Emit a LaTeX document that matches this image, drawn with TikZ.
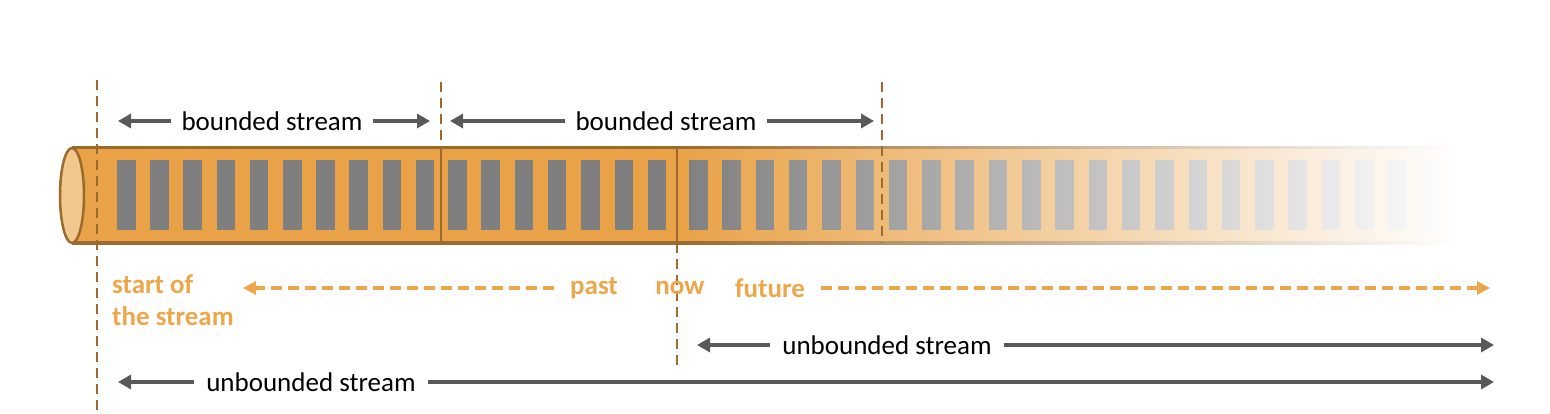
\documentclass[tikz,border=0pt]{standalone}
\usepackage{fontspec}
\setmainfont{Carlito}
\usetikzlibrary{arrows.meta,fadings}

\definecolor{tubeorange}{HTML}{E9A247}
\definecolor{tubeedge}{HTML}{9B6A2F}
\definecolor{capfill}{HTML}{F2C88E}
\definecolor{bargray}{HTML}{7F7F7F}
\definecolor{arrowgray}{HTML}{595959}
\definecolor{laborange}{HTML}{EEA64B}

\tikzfading[name=fadein, left color=transparent!100, right color=transparent!0]

\tikzset{
  label/.style={font=\fontsize{27}{32}\selectfont, inner sep=10pt},
  timelabel/.style={label, font=\fontsize{27}{32}\selectfont\bfseries, text=laborange, inner sep=16pt},
  grayarrow/.style={draw=arrowgray, line width=4pt, -{Triangle[length=13pt,width=14pt]}},
  timearrow/.style={draw=laborange, line width=3.5pt, dash pattern=on 11pt off 6pt,
    -{Triangle[length=13pt,width=13pt]}},
  cutline/.style={draw=tubeedge, line width=2.5pt, dash pattern=on 10pt off 6pt},
}

\begin{document}
\begin{tikzpicture}[x=1pt,y=-1pt]
    \useasboundingbox (0,0) rectangle (1550,414);

    % tube
    \fill[tubeorange] (72,148) rectangle (1450,243);
    \foreach \k in {0,...,9}
        \fill[bargray] ({117+33.2*\k},160) rectangle ++(18.5,70);
    \foreach \k in {0,...,6}
        \fill[bargray] ({448+33.3*\k},160) rectangle ++(18.5,70);
    \foreach \k in {0,...,22}
        \fill[bargray] ({689+33.3*\k},160) rectangle ++(18.5,70);
    \draw[tubeedge, line width=3pt] (72,148) -- (1450,148) (72,243) -- (1450,243);
    \fill[white, path fading=fadein] (677,144) rectangle (1456,248);
    \draw[tubeedge, fill=capfill, line width=2.5pt] (72,195.5) ellipse [x radius=12, y radius=47.5];

    % cuts
    \draw[tubeedge, line width=2.5pt] (441,148) -- (441,243) (677,148) -- (677,243);
    \draw[cutline] (97,80) -- (97,410);
    \draw[cutline] (441,82) -- (441,148);
    \draw[cutline] (882,82) -- (882,243);
    \draw[cutline] (677,243) -- (677,368);

    % bounded streams
    \node[label] (bnd1) at (272,121) {bounded stream};
    \coordinate (bnd1l) at (118,121);
    \coordinate (bnd1r) at (430,121);
    \draw[grayarrow] (bnd1) -- (bnd1l);
    \draw[grayarrow] (bnd1) -- (bnd1r);

    \node[label] (bnd2) at (666,121) {bounded stream};
    \coordinate (bnd2l) at (450,121);
    \coordinate (bnd2r) at (874,121);
    \draw[grayarrow] (bnd2) -- (bnd2l);
    \draw[grayarrow] (bnd2) -- (bnd2r);

    % time
    \node[timelabel, anchor=north west, align=left, inner sep=0pt] (start) at (112,275)
        {start of\\the stream};
    \node[timelabel] (past) at (594,288) {past};
    \node[timelabel, inner sep=6pt] (now) at (680,288) {now};
    \node[timelabel] (future) at (770,288) {future};
    \coordinate (pastend) at (243,288);
    \coordinate (futureend) at (1490,288);
    \draw[timearrow] (past) -- (pastend);
    \draw[timearrow] (future) -- (futureend);

    % unbounded streams
    \node[label, inner sep=12pt] (unb1) at (887,345) {unbounded stream};
    \coordinate (unb1l) at (697,345);
    \coordinate (unb1r) at (1494,345);
    \draw[grayarrow] (unb1) -- (unb1l);
    \draw[grayarrow] (unb1) -- (unb1r);

    \node[label, inner sep=12pt] (unb2) at (311,382) {unbounded stream};
    \coordinate (unb2l) at (118,382);
    \coordinate (unb2r) at (1494,382);
    \draw[grayarrow] (unb2) -- (unb2l);
    \draw[grayarrow] (unb2) -- (unb2r);
\end{tikzpicture}
\end{document}
